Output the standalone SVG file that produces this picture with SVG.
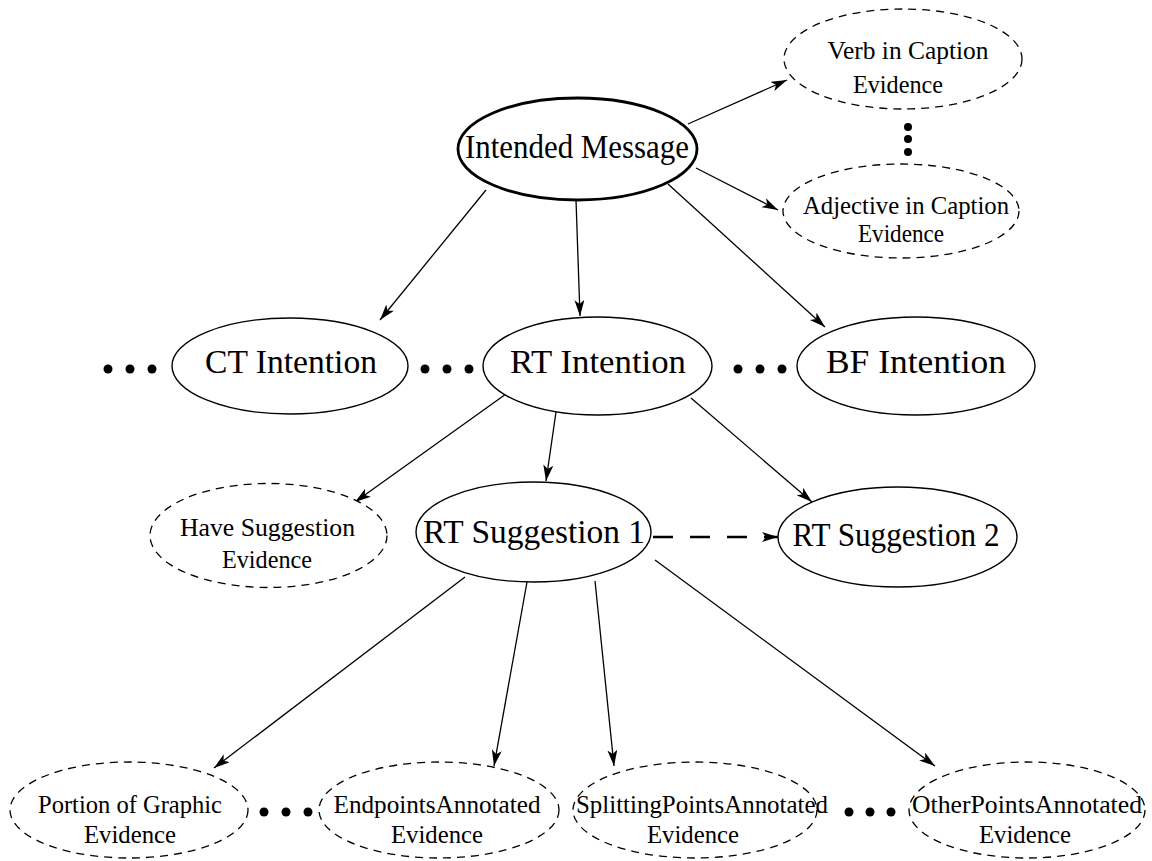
<svg xmlns="http://www.w3.org/2000/svg" width="1152" height="861" viewBox="0 0 1152 861">
  <style>
    .node { fill: #ffffff; stroke: #000000; stroke-width: 1.4; }
    .main { stroke-width: 2.8; }
    .ev { fill: #ffffff; stroke: #000000; stroke-width: 1.3; stroke-dasharray: 8 6; }
    .big { font-family: "Liberation Serif", "Times New Roman", serif; font-size: 33px; fill: #000; text-anchor: middle; }
    .small { font-family: "Liberation Serif", "Times New Roman", serif; font-size: 26px; fill: #000; text-anchor: middle; }
    .edge { fill: none; stroke: #000000; stroke-width: 1.3; marker-end: url(#arrow); }
    .dashed { stroke-width: 2.6; stroke-dasharray: 20 17; }
    .dot { fill: #000000; }
  </style>
  <defs>
    <marker id="arrow" markerUnits="userSpaceOnUse" markerWidth="18" markerHeight="12" refX="16" refY="5" orient="auto">
      <path d="M0,0 L16,5 L0,10 L4,5 Z" fill="#000000"/>
    </marker>
  </defs>

  <!-- connectors -->
  <g id="edges">
    <line class="edge" x1="486" y1="190" x2="380" y2="320"/>
    <line class="edge" x1="576" y1="200" x2="580" y2="316"/>
    <line class="edge" x1="668" y1="184" x2="825" y2="327"/>
    <line class="edge" x1="688" y1="124" x2="787" y2="80"/>
    <line class="edge" x1="696" y1="168" x2="778" y2="210"/>
    <line class="edge" x1="506" y1="394" x2="355" y2="502"/>
    <line class="edge" x1="556" y1="412" x2="546" y2="481"/>
    <line class="edge" x1="691" y1="398" x2="812" y2="502"/>
    <line class="edge dashed" x1="653" y1="537" x2="778" y2="537"/>
    <line class="edge" x1="465" y1="577" x2="214" y2="768"/>
    <line class="edge" x1="527" y1="582" x2="494" y2="766"/>
    <line class="edge" x1="595" y1="581" x2="614" y2="766"/>
    <line class="edge" x1="655" y1="560" x2="935" y2="766"/>
  </g>

  <!-- ellipsis dots -->
  <g id="dots">
    <circle class="dot" cx="908" cy="127" r="4"/>
    <circle class="dot" cx="908" cy="139" r="4"/>
    <circle class="dot" cx="908" cy="152" r="4"/>
    <circle class="dot" cx="108" cy="369" r="4.5"/>
    <circle class="dot" cx="130" cy="369" r="4.5"/>
    <circle class="dot" cx="152" cy="369" r="4.5"/>
    <circle class="dot" cx="425" cy="369" r="4.5"/>
    <circle class="dot" cx="447" cy="369" r="4.5"/>
    <circle class="dot" cx="469" cy="369" r="4.5"/>
    <circle class="dot" cx="738" cy="369" r="4.5"/>
    <circle class="dot" cx="760" cy="369" r="4.5"/>
    <circle class="dot" cx="782" cy="369" r="4.5"/>
    <circle class="dot" cx="264" cy="812" r="4.5"/>
    <circle class="dot" cx="286" cy="812" r="4.5"/>
    <circle class="dot" cx="308" cy="812" r="4.5"/>
    <circle class="dot" cx="849" cy="812" r="4.5"/>
    <circle class="dot" cx="870" cy="812" r="4.5"/>
    <circle class="dot" cx="891" cy="812" r="4.5"/>
  </g>

  <g id="intended-message">
    <ellipse class="node main" cx="577.5" cy="149" rx="119.5" ry="51"/>
    <text class="big" x="577" y="158" textLength="224" lengthAdjust="spacingAndGlyphs">Intended Message</text>
  </g>

  <g id="verb-evidence">
    <ellipse class="ev" cx="903" cy="59" rx="119" ry="50"/>
    <text class="small" x="908" y="59" textLength="161" lengthAdjust="spacingAndGlyphs">Verb in Caption</text>
    <text class="small" x="898" y="93" textLength="90" lengthAdjust="spacingAndGlyphs">Evidence</text>
  </g>

  <g id="adjective-evidence">
    <ellipse class="ev" cx="901" cy="211" rx="118" ry="47"/>
    <text class="small" x="906" y="214" textLength="206" lengthAdjust="spacingAndGlyphs">Adjective in Caption</text>
    <text class="small" x="901" y="242" textLength="86" lengthAdjust="spacingAndGlyphs">Evidence</text>
  </g>

  <g id="ct-intention">
    <ellipse class="node" cx="290" cy="366" rx="118" ry="48"/>
    <text class="big" x="291" y="373" textLength="172" lengthAdjust="spacingAndGlyphs">CT Intention</text>
  </g>

  <g id="rt-intention">
    <ellipse class="node" cx="597.5" cy="366" rx="114.5" ry="49"/>
    <text class="big" x="598" y="373" textLength="176" lengthAdjust="spacingAndGlyphs">RT Intention</text>
  </g>

  <g id="bf-intention">
    <ellipse class="node" cx="916" cy="366" rx="119" ry="49"/>
    <text class="big" x="916" y="373" textLength="180" lengthAdjust="spacingAndGlyphs">BF Intention</text>
  </g>

  <g id="have-suggestion-evidence">
    <ellipse class="ev" cx="268.5" cy="535.5" rx="118.5" ry="52"/>
    <text class="small" x="267.5" y="536" textLength="175" lengthAdjust="spacingAndGlyphs">Have Suggestion</text>
    <text class="small" x="267" y="568" textLength="90" lengthAdjust="spacingAndGlyphs">Evidence</text>
  </g>

  <g id="rt-suggestion-1">
    <ellipse class="node" cx="533.5" cy="532" rx="117.5" ry="50"/>
    <text class="big" x="534" y="543" textLength="222" lengthAdjust="spacingAndGlyphs">RT Suggestion 1</text>
  </g>

  <g id="rt-suggestion-2">
    <ellipse class="node" cx="897.5" cy="537" rx="119.5" ry="50"/>
    <text class="big" x="896" y="546" textLength="207" lengthAdjust="spacingAndGlyphs">RT Suggestion 2</text>
  </g>

  <g id="portion-evidence">
    <ellipse class="ev" cx="129" cy="810" rx="119" ry="48"/>
    <text class="small" x="130" y="813" textLength="184" lengthAdjust="spacingAndGlyphs">Portion of Graphic</text>
    <text class="small" x="130" y="843" textLength="92" lengthAdjust="spacingAndGlyphs">Evidence</text>
  </g>

  <g id="endpoints-evidence">
    <ellipse class="ev" cx="439" cy="810" rx="120" ry="48"/>
    <text class="small" x="437" y="813" textLength="207" lengthAdjust="spacingAndGlyphs">EndpointsAnnotated</text>
    <text class="small" x="437" y="843" textLength="92" lengthAdjust="spacingAndGlyphs">Evidence</text>
  </g>

  <g id="splitting-evidence">
    <ellipse class="ev" cx="695" cy="810" rx="122" ry="48"/>
    <text class="small" x="702" y="813" textLength="252" lengthAdjust="spacingAndGlyphs">SplittingPointsAnnotated</text>
    <text class="small" x="693" y="843" textLength="92" lengthAdjust="spacingAndGlyphs">Evidence</text>
  </g>

  <g id="other-evidence">
    <ellipse class="ev" cx="1027" cy="810" rx="118" ry="48"/>
    <text class="small" x="1027" y="813" textLength="230" lengthAdjust="spacingAndGlyphs">OtherPointsAnnotated</text>
    <text class="small" x="1025" y="843" textLength="92" lengthAdjust="spacingAndGlyphs">Evidence</text>
  </g>
</svg>
